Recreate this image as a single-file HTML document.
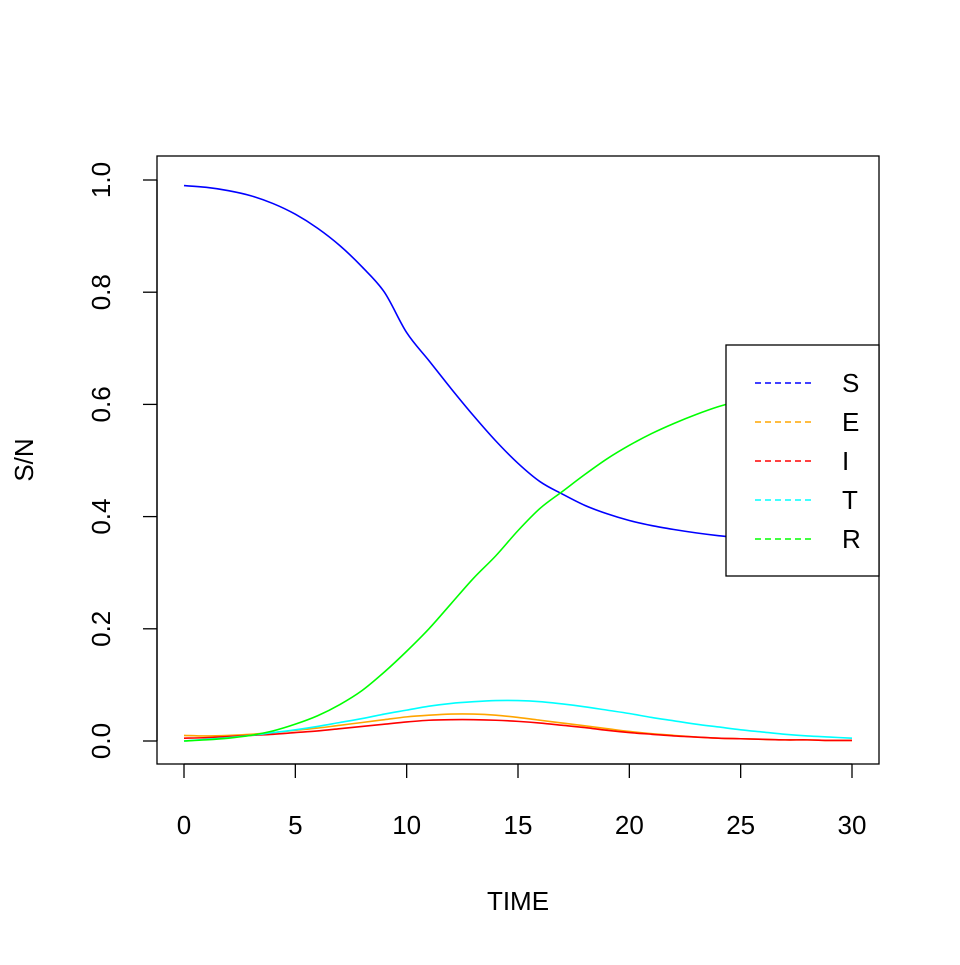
<!DOCTYPE html>
<html><head><meta charset="utf-8"><style>
body{margin:0;background:#fff}
text{font-family:"Liberation Sans",sans-serif;font-size:26px;fill:#000}
</style></head><body>
<svg id="chart" width="960" height="960" viewBox="0 0 960 960" xmlns="http://www.w3.org/2000/svg">
<rect x="157" y="156" width="722" height="608" fill="none" stroke="#000" stroke-width="1.3"/>
<g id="xaxis"></g>
<g id="yaxis"></g>
<g id="series"></g>
<text x="518" y="910" text-anchor="middle">TIME</text>
<text transform="translate(33,460) rotate(-90)" text-anchor="middle">S/N</text>
<g>
<rect x="726" y="345" width="153" height="231" fill="#fff" stroke="#000" stroke-width="1.3"/>
<g id="legend-entries"></g>
</g>
</svg>
<script>
const times=[0,1,2,3,4,5,6,7,8,9,10,11,12,13,14,15,16,17,18,19,20,21,22,23,24,25,26,27,28,29,30];
const sVals=[0.99,0.987,0.981,0.972,0.958,0.939,0.914,0.883,0.845,0.8,0.728,0.678,0.628,0.58,0.535,0.495,0.462,0.44,0.42,0.405,0.393,0.384,0.377,0.371,0.366,0.362,0.358,0.355,0.353,0.352,0.351];
const eVals=[0.01,0.009,0.01,0.012,0.015,0.019,0.023,0.028,0.033,0.038,0.043,0.046,0.048,0.048,0.046,0.042,0.037,0.032,0.027,0.022,0.017,0.013,0.01,0.007,0.005,0.004,0.003,0.002,0.002,0.001,0.001];
const iVals=[0.005,0.006,0.008,0.01,0.012,0.015,0.018,0.022,0.026,0.03,0.034,0.037,0.038,0.038,0.037,0.035,0.032,0.028,0.024,0.019,0.015,0.012,0.009,0.007,0.005,0.004,0.003,0.002,0.002,0.001,0.001];
const tVals=[0,0.003,0.006,0.01,0.015,0.02,0.026,0.033,0.04,0.048,0.055,0.062,0.067,0.07,0.072,0.072,0.07,0.066,0.061,0.055,0.049,0.042,0.036,0.03,0.025,0.02,0.016,0.012,0.009,0.007,0.005];
const rVals=[0,0.002,0.005,0.01,0.018,0.03,0.045,0.065,0.09,0.123,0.16,0.2,0.245,0.29,0.33,0.375,0.415,0.445,0.475,0.503,0.527,0.548,0.566,0.582,0.596,0.607,0.615,0.622,0.627,0.631,0.634];
const xTicks=[0,5,10,15,20,25,30];
const yTicks=[0,0.2,0.4,0.6,0.8,1.0];
const yTickLabels=["0.0","0.2","0.4","0.6","0.8","1.0"];
const seriesNames=["S","E","I","T","R"];
const NS="http://www.w3.org/2000/svg";
const xs=t=>184+t*(852-184)/30;
const ys=v=>741-v*561;
function mk(tag,attrs,parent){const e=document.createElementNS(NS,tag);for(const k in attrs)e.setAttribute(k,attrs[k]);parent.appendChild(e);return e;}
const xa=document.getElementById('xaxis');
let l=mk('line',{x1:xs(0),x2:xs(30),y1:764,y2:764,stroke:'#000','stroke-width':1.3},xa);


xTicks.forEach(t=>{
 const tk=mk('line',{x1:xs(t),x2:xs(t),y1:764,y2:778,stroke:'#000','stroke-width':1.3},xa);
 
 
 const tx=mk('text',{x:xs(t),y:834,'text-anchor':'middle'},xa);tx.textContent=t;
 
 
});
const ya=document.getElementById('yaxis');
l=mk('line',{x1:157,x2:157,y1:ys(0),y2:ys(1),stroke:'#000','stroke-width':1.3},ya);


yTicks.forEach((v,i)=>{
 const tk=mk('line',{x1:143,x2:157,y1:ys(v),y2:ys(v),stroke:'#000','stroke-width':1.3},ya);
 
 
 const tx=mk('text',{transform:`translate(110,${ys(v)}) rotate(-90)`,'text-anchor':'middle'},ya);tx.textContent=yTickLabels[i];
 
 
});
function smooth(vals){
 const p=vals.map((v,i)=>[xs(times[i]),ys(v)]);
 let d=`M${p[0][0]},${p[0][1]}`;
 for(let i=0;i<p.length-1;i++){
  const p0=p[Math.max(0,i-1)],p1=p[i],p2=p[i+1],p3=p[Math.min(p.length-1,i+2)];
  d+=` C${p1[0]+(p2[0]-p0[0])/6},${p1[1]+(p2[1]-p0[1])/6} ${p2[0]-(p3[0]-p1[0])/6},${p2[1]-(p3[1]-p1[1])/6} ${p2[0]},${p2[1]}`;
 }
 return d;
}
const sg=document.getElementById('series');
const colors=["#0000ff","#ffa500","#ff0000","#00ffff","#00ff00"];
const all=[sVals,eVals,iVals,tVals,rVals];
all.forEach((vals,k)=>{
 const p=mk('path',{d:smooth(vals),fill:'none',stroke:colors[k],'stroke-width':1.6},sg);
 
 
});
const lg=document.getElementById('legend-entries');
seriesNames.forEach((n,k)=>{
 const y=383+k*39;
 const ln=mk('line',{x1:755,x2:813,y1:y,y2:y,stroke:colors[k],'stroke-width':1.6,'stroke-dasharray':'6,4'},lg);
 
 
 const tx=mk('text',{x:842,y:y+9},lg);tx.textContent=n;
 
 
});
</script>
</body></html>
